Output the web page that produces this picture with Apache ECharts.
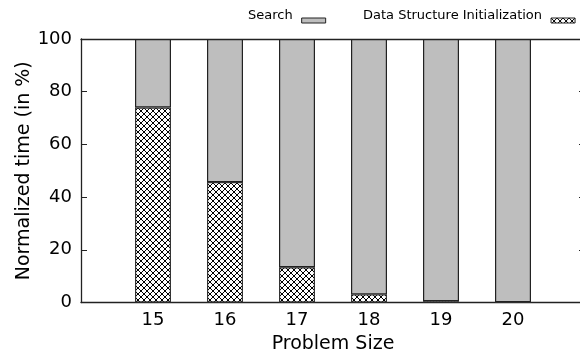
<!DOCTYPE html>
<html>
<head>
<meta charset="utf-8">
<script src="https://cdn.jsdelivr.net/npm/echarts@6/dist/echarts.min.js"></script>
<style>
  html, body { margin: 0; padding: 0; overflow: hidden; background: #fff; }
  #chart { width: 586px; height: 354px; }
</style>
</head>
<body>
<div id="chart"></div>
<script>
// Problem sizes on the x axis
const problemSizes = [15, 16, 17, 18, 19, 20];
// Empty slots on either side of the bars
const leftPad = 14, rightPad = 21;
// Share of run time spent building the data structure (%)
const initShare = [74, 45.7, 13.4, 3.1, 0.5, 0.1];
// Share of run time spent searching (%)
const searchShare = [26, 54.3, 86.6, 96.9, 99.5, 99.9];
// Value axis ticks
const yTicks = [0, 20, 40, 60, 80, 100];

const FONT = 'DejaVu Sans';

// Cross-hatch fill tile
function makeHatch() {
  const n = 6;
  const c = document.createElement('canvas');
  c.width = n; c.height = n;
  const ctx = c.getContext('2d');
  const img = ctx.createImageData(n, n);
  for (let y = 0; y < n; y++) {
    for (let x = 0; x < n; x++) {
      const on = (x === y) || (x + y === n - 1);
      const i = (y * n + x) * 4;
      const v = on ? 0 : 255;
      img.data[i] = v; img.data[i + 1] = v; img.data[i + 2] = v; img.data[i + 3] = 255;
    }
  }
  ctx.putImageData(img, 0, 0);
  return c;
}
const hatch = { image: makeHatch(), repeat: 'repeat' };

const chart = echarts.init(document.getElementById('chart'), null, { renderer: 'canvas' });

const axisCats = [leftPad, ...problemSizes, rightPad].map(String);
const padded = (vals) => [null, ...vals, null];

// Legend label sits slightly above its swatch
const legendText = {
  color: '#000',
  rich: { t: { fontFamily: FONT, fontSize: 13, color: '#000', padding: [0, 4, 10, 0] } }
};

chart.setOption({
  animation: false,
  grid: { left: 81, right: 1, top: 39, bottom: 51.5, outerBoundsMode: 'none', containLabel: false },
  legend: [
    {
      data: [{ name: 'Search', itemStyle: { color: '#bebebe', borderColor: '#222', borderWidth: 1 } }],
      left: 243, top: 4, formatter: '{t|{name}}',
      align: 'right', icon: 'rect', itemWidth: 24, itemHeight: 5,
      textStyle: legendText, selectedMode: false
    },
    {
      data: [{ name: 'Data Structure Initialization', itemStyle: { color: hatch, borderColor: '#222', borderWidth: 1 } }],
      left: 358, top: 4, formatter: '{t|{name}}',
      align: 'right', icon: 'rect', itemWidth: 24, itemHeight: 5,
      textStyle: legendText, selectedMode: false
    }
  ],
  xAxis: [
    {
      type: 'category', data: axisCats, boundaryGap: false,
      name: 'Problem Size', nameLocation: 'middle', nameGap: 32,
      nameTextStyle: { fontFamily: FONT, fontSize: 19, color: '#000' },
      axisLine: { show: true, onZero: false, lineStyle: { color: '#222', width: 1.3 } },
      axisTick: { show: false },
      splitLine: { show: false },
      axisLabel: {
        fontFamily: FONT, fontSize: 18, color: '#000', margin: 9, interval: 0,
        formatter: (v) => problemSizes.includes(Number(v)) ? v : ''
      }
    },
    {
      type: 'category', data: axisCats, boundaryGap: false, position: 'top',
      axisLine: { show: true, onZero: false, lineStyle: { color: '#222', width: 1.3 } },
      axisTick: { show: false }, axisLabel: { show: false }, splitLine: { show: false }
    }
  ],
  yAxis: [
    {
      type: 'value', min: yTicks[0], max: yTicks[yTicks.length - 1], interval: yTicks[1] - yTicks[0],
      name: 'Normalized time (in %)', nameLocation: 'middle', nameGap: 47, nameMoveOverlap: false,
      nameTextStyle: { fontFamily: FONT, fontSize: 19, color: '#000' },
      axisLine: { show: true, lineStyle: { color: '#222', width: 1.3 } },
      axisTick: { show: true, inside: true, length: 6, lineStyle: { color: '#222' } },
      splitLine: { show: false },
      axisLabel: { fontFamily: FONT, fontSize: 18, color: '#000', margin: 9 }
    },
    {
      type: 'value', min: yTicks[0], max: yTicks[yTicks.length - 1], interval: yTicks[1] - yTicks[0],
      position: 'right',
      axisLine: { show: true, lineStyle: { color: '#222', width: 1.3 } },
      axisTick: { show: true, inside: true, length: 6, lineStyle: { color: '#222' } },
      axisLabel: { show: false }, splitLine: { show: false }
    }
  ],
  series: [
    {
      name: 'Data Structure Initialization', type: 'bar', stack: 'time',
      barWidth: 36, data: padded(initShare),
      itemStyle: { color: hatch, borderColor: '#333', borderWidth: 1.2 }
    },
    {
      name: 'Search', type: 'bar', stack: 'time',
      barWidth: 36, data: padded(searchShare),
      itemStyle: { color: '#bebebe', borderColor: '#222', borderWidth: 1.2 }
    }
  ]
});
</script>
</body>
</html>
